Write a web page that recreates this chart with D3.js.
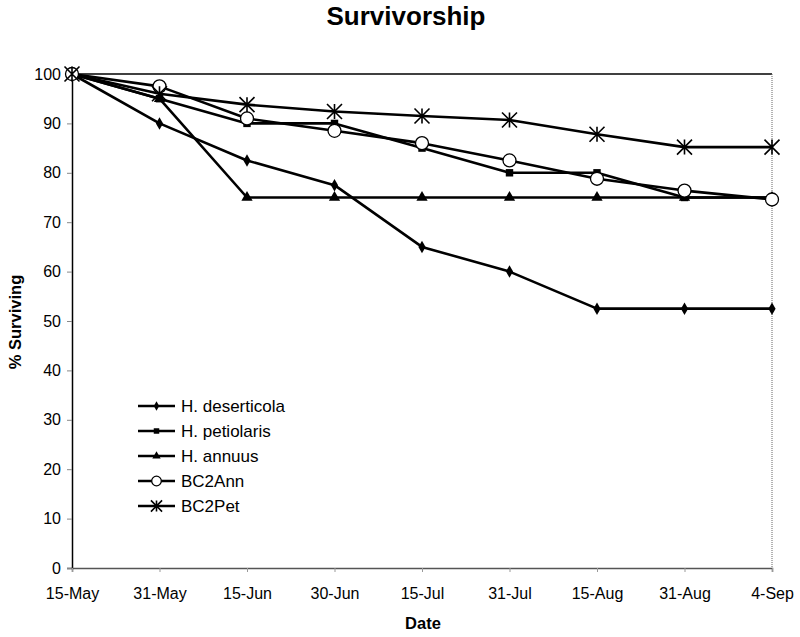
<!DOCTYPE html>
<html><head><meta charset="utf-8">
<script src="https://cdn.jsdelivr.net/npm/d3@7"></script>
<style>body{margin:0;background:#fff}text{font-family:"Liberation Sans",Arial,sans-serif}</style>
</head><body><svg id="c" width="800" height="637"></svg>
<script>
const dates = ["15-May","31-May","15-Jun","30-Jun","15-Jul","31-Jul","15-Aug","31-Aug","4-Sep"];
const deserticola = [100,90,82.5,77.5,65,60,52.5,52.5,52.5];
const petiolaris  = [100,95,90,90,85,80,80,75,75];
const annuus      = [100,95,75,75,75,75,75,75,75];
const bc2Ann      = [100,97.5,91,88.5,86,82.5,78.8,76.4,74.6];
const bc2Pet      = [100,96,93.8,92.4,91.5,90.7,87.8,85.2,85.2];
const seriesNames = ["H. deserticola","H. petiolaris","H. annuus","BC2Ann","BC2Pet"];
const yTicks = [0,10,20,30,40,50,60,70,80,90,100];

const series = [
  {name:seriesNames[0], values:deserticola, sym:"diamond"},
  {name:seriesNames[1], values:petiolaris, sym:"square"},
  {name:seriesNames[2], values:annuus, sym:"triangle"},
  {name:seriesNames[3], values:bc2Ann, sym:"circle"},
  {name:seriesNames[4], values:bc2Pet, sym:"star"}
];

const FONT = "Liberation Sans, Arial, sans-serif";
const svg = d3.select("#c");
const L=72, R=772, T=74, B=568;
const x = d3.scalePoint().domain(dates).range([L,R]);
const y = d3.scaleLinear().domain([0,100]).range([B,T]);

// frame
svg.append("line").attr("x1",L).attr("x2",R).attr("y1",T).attr("y2",T).attr("stroke","#000").attr("stroke-width",1.5);
svg.append("line").attr("x1",R).attr("x2",R).attr("y1",T).attr("y2",B).attr("stroke","#666").attr("stroke-width",1).attr("stroke-dasharray","1,1");

// axes
const yAxis = d3.axisLeft(y).tickValues(yTicks).tickSize(5).tickPadding(6);
const gy = svg.append("g").attr("transform",`translate(${L},0)`).call(yAxis);
gy.select(".domain").attr("stroke","#000").attr("stroke-width",1.5);
gy.selectAll(".tick line").attr("stroke","#888");
gy.selectAll("text").attr("font-size",16).attr("fill","#000").attr("font-family",FONT);

const xAxis = d3.axisBottom(x).tickSize(4).tickPadding(16);
const gx = svg.append("g").attr("transform",`translate(0,${B})`).call(xAxis);
gx.select(".domain").attr("stroke","#555").attr("stroke-width",1.5);
gx.selectAll(".tick line").attr("stroke","#999");
gx.selectAll("text").attr("font-size",16).attr("fill","#000").attr("font-family",FONT);

// titles
svg.append("text").attr("x",406).attr("y",25).attr("text-anchor","middle").attr("font-size",26).attr("font-weight","bold").text("Survivorship");
svg.append("text").attr("x",423).attr("y",629).attr("text-anchor","middle").attr("font-size",16.5).attr("font-weight","bold").text("Date");
svg.append("text").attr("transform","translate(21,322) rotate(-90)").attr("text-anchor","middle").attr("font-size",16.5).attr("font-weight","bold").text("% Surviving");

const line = d3.line().x((d,i)=>x(dates[i])).y(d=>y(d));

function drawMarker(g, sym, cx, cy, scale){
  scale = scale||1;
  if(sym==="diamond"){
    g.append("path").attr("d",d3.symbol(d3.symbolDiamond,45*scale)()).attr("transform",`translate(${cx},${cy})`).attr("fill","#000");
  } else if(sym==="square"){
    g.append("path").attr("d",d3.symbol(d3.symbolSquare,55*scale)()).attr("transform",`translate(${cx},${cy})`).attr("fill","#000");
  } else if(sym==="triangle"){
    g.append("path").attr("d",d3.symbol(d3.symbolTriangle,55*scale)()).attr("transform",`translate(${cx},${cy})`).attr("fill","#000");
  } else if(sym==="circle"){
    g.append("circle").attr("cx",cx).attr("cy",cy).attr("r",6.5*Math.sqrt(scale)).attr("fill","#fff").attr("stroke","#000").attr("stroke-width",1.3);
  } else if(sym==="star"){
    const s=7.5*Math.sqrt(scale);
    const p=`M${cx-s},${cy-s}L${cx+s},${cy+s}M${cx-s},${cy+s}L${cx+s},${cy-s}M${cx},${cy-s}L${cx},${cy+s}`;
    g.append("path").attr("d",p).attr("stroke","#000").attr("stroke-width",1.6).attr("fill","none");
  }
}

series.forEach(s=>{
  svg.append("path").datum(s.values).attr("d",line).attr("fill","none").attr("stroke","#000").attr("stroke-width",2.6).attr("stroke-linejoin","round");
});
series.forEach(s=>{
  const g=svg.append("g");
  s.values.forEach((v,i)=>drawMarker(g,s.sym,x(dates[i]),y(v)));
});

// legend
const lg = svg.append("g");
series.forEach((s,i)=>{
  const ly = 406 + i*25;
  lg.append("line").attr("x1",138).attr("x2",175).attr("y1",ly).attr("y2",ly).attr("stroke","#000").attr("stroke-width",2.6);
  drawMarker(lg,s.sym,156.5,ly,0.55);
  lg.append("text").attr("x",181).attr("y",ly+6).attr("font-size",17).text(s.name);
});
</script></body></html>
